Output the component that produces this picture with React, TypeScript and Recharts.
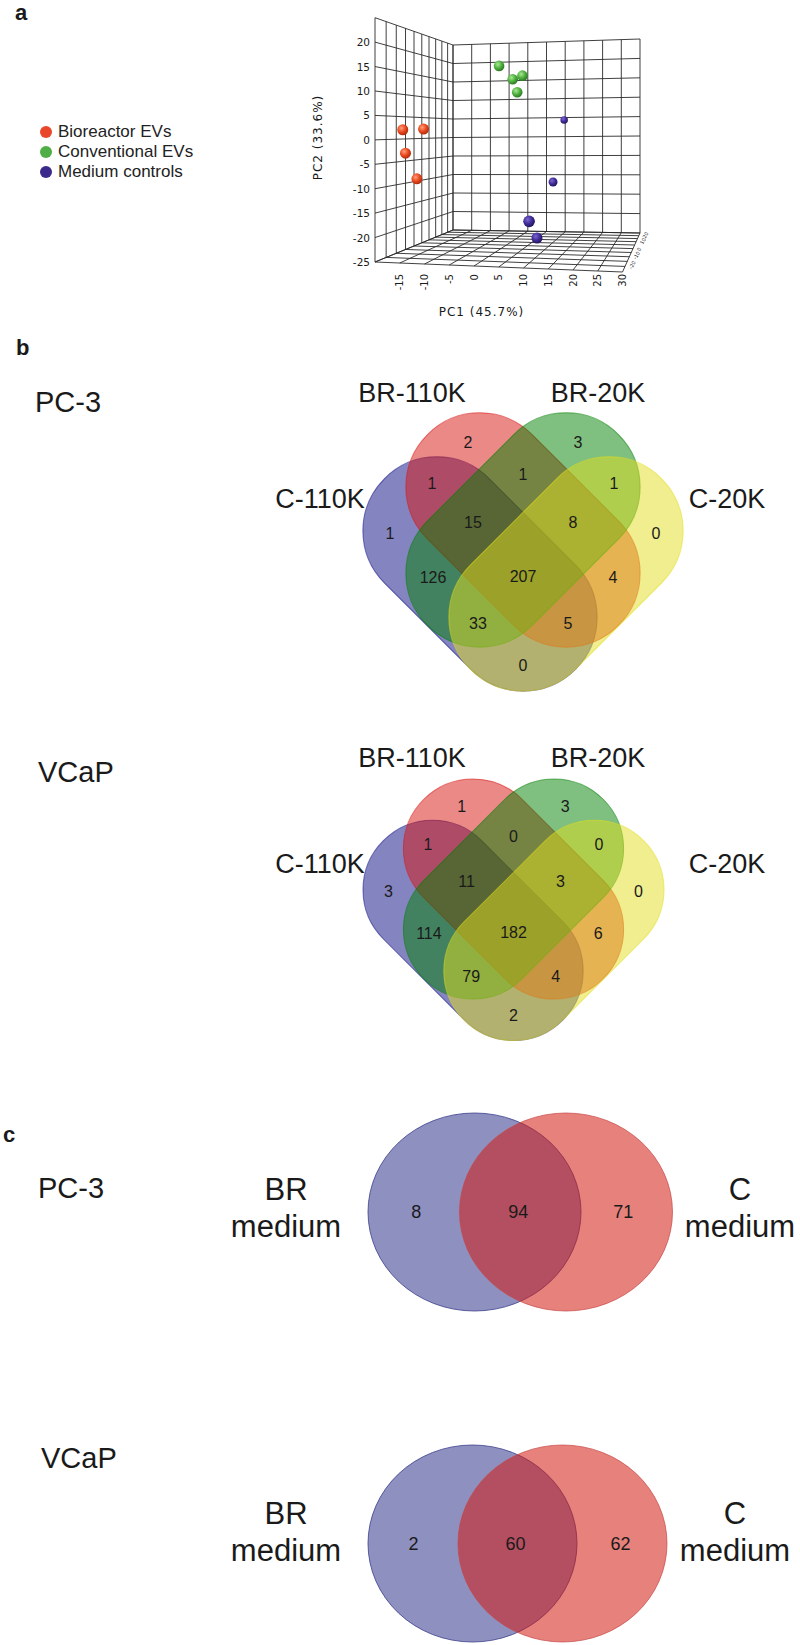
import React from 'react';
import { ScatterChart, Scatter, XAxis, YAxis, ReferenceLine, ReferenceArea, Legend } from 'recharts';

// ======================= DATA =======================
const groups = ['Bioreactor EVs', 'Conventional EVs', 'Medium controls'];

const bioreactorPC1 = [-17.4, -13.1, -16.7, -14.6];
const bioreactorPC2 = [2.1, 2.3, -2.9, -8.4];
const bioreactorPC3 = [-17.9, -17.6, -18.2, -17.4];

const conventionalPC1 = [2.5, 5.3, 7.6, 6.4];
const conventionalPC2 = [15.9, 13.1, 13.8, 10.3];
const conventionalPC3 = [-15.9, -15.4, -16.2, -15.9];

const mediumPC1 = [12.8, 12.0, 10.3, 11.1];
const mediumPC2 = [4.4, -9.6, -16.2, -20.2];
const mediumPC3 = [5.4, -5.0, -21.6, -17.9];

const pc1Ticks = [-15, -10, -5, 0, 5, 10, 15, 20, 25, 30];
const pc2Ticks = [20, 15, 10, 5, 0, -5, -10, -15, -20, -25];
const pc3Ticks = [-20, -10, 0, 10, 20];
const pc1Grid = [-20, -15, -10, -5, 0, 5, 10, 15, 20, 25, 30];
const pc2Grid = [-25, -20, -15, -10, -5, 0, 5, 10, 15, 20, 25];
const pc3Grid = [-25, -20, -15, -10, -5, 0, 5, 10, 15, 20, 25];
const pc1Title = 'PC1 (45.7%)';
const pc2Title = 'PC2 (33.6%)';

const venn4SetNames = ['C-110K', 'BR-110K', 'BR-20K', 'C-20K'];
const venn4Regions = ['A', 'B', 'C', 'D', 'AB', 'BC', 'CD', 'ABC', 'BCD', 'AC', 'BD', 'ABCD', 'ACD', 'ABD', 'AD'];
const pc3Venn4Counts = [1, 2, 3, 0, 1, 1, 1, 15, 8, 126, 4, 207, 33, 5, 0];
const vcapVenn4Counts = [3, 1, 3, 0, 1, 0, 0, 11, 3, 114, 6, 182, 79, 4, 2];

const venn2SetNames = [['BR', 'medium'], ['C', 'medium']];
const venn2Regions = ['A', 'AB', 'B'];
const pc3Venn2Counts = [8, 94, 71];
const vcapVenn2Counts = [2, 60, 62];

const panelLetters = ['a', 'b', 'c'];
const cellLines = ['PC-3', 'VCaP'];

// ======================= LAYOUT =======================
const W = 800;
const H = 1645;
const SANS = 'Liberation Sans, Arial, Helvetica, sans-serif';
const VERD = 'DejaVu Sans, Verdana, sans-serif';

// 3D box projection (page pixel frame)
const BOX = { p1: [-20, 30], p2: [-25, 25], p3: [-25, 25] };
const FRONT = { x0: 375, x1: 622.5, yb0: 262, yb1: 272, yt0: 17.7, yt1: 16 };
const BACK = { x0: 453, x1: 640, yb0: 230, yb1: 233, yt0: 45, yt1: 39 };
const PERSP = 0.5;

function proj(p1: number, p2: number, p3: number) {
  const u = (p1 - BOX.p1[0]) / (BOX.p1[1] - BOX.p1[0]);
  const v = (p2 - BOX.p2[0]) / (BOX.p2[1] - BOX.p2[0]);
  const t = (p3 - BOX.p3[0]) / (BOX.p3[1] - BOX.p3[0]);
  const f = (t * (1 + PERSP)) / (1 + PERSP * t);
  const xf = FRONT.x0 + u * (FRONT.x1 - FRONT.x0);
  const yfb = FRONT.yb0 + u * (FRONT.yb1 - FRONT.yb0);
  const yft = FRONT.yt0 + u * (FRONT.yt1 - FRONT.yt0);
  const yf = yfb + v * (yft - yfb);
  const xb = BACK.x0 + u * (BACK.x1 - BACK.x0);
  const ybb = BACK.yb0 + u * (BACK.yb1 - BACK.yb0);
  const ybt = BACK.yt0 + u * (BACK.yt1 - BACK.yt0);
  const yb = ybb + v * (ybt - ybb);
  return { x: xf + f * (xb - xf), y: yf + f * (yb - yf), f };
}

type Seg = [{ x: number; y: number }, { x: number; y: number }];
const gridSegs: Seg[] = [];
const seg = (a: { x: number; y: number }, b: { x: number; y: number }) =>
  gridSegs.push([{ x: a.x, y: a.y }, { x: b.x, y: b.y }]);
const [p1a, p1b] = BOX.p1;
const [p2a, p2b] = BOX.p2;
const [p3a, p3b] = BOX.p3;
// back wall
pc1Grid.forEach((k) => seg(proj(k, p2a, p3b), proj(k, p2b, p3b)));
pc2Grid.forEach((k) => seg(proj(p1a, k, p3b), proj(p1b, k, p3b)));
// left wall
pc3Grid.forEach((k) => seg(proj(p1a, p2a, k), proj(p1a, p2b, k)));
pc2Grid.forEach((k) => seg(proj(p1a, k, p3a), proj(p1a, k, p3b)));
// floor
pc1Grid.forEach((k) => seg(proj(k, p2a, p3a), proj(k, p2a, p3b)));
pc3Grid.forEach((k) => seg(proj(p1a, p2a, k), proj(p1b, p2a, k)));

const toPoints = (a: number[], b: number[], c: number[]) =>
  a.map((v, i) => {
    const p = proj(v, b[i], c[i]);
    return { x: p.x, y: p.y, r: 6.2 - 3.5 * p.f, i };
  });
const bioPts = toPoints(bioreactorPC1, bioreactorPC2, bioreactorPC3);
const convPts = toPoints(conventionalPC1, conventionalPC2, conventionalPC3);
const medPts = toPoints(mediumPC1, mediumPC2, mediumPC3);

// Venn 4 layout (relative units, scaled per panel)
const V4_CAPSULE = { len: 270, wid: 148 };
const V4_SHAPES = [
  { dx: -43, dy: 44, angle: 45 },
  { dx: 0, dy: 0, angle: 45 },
  { dx: 0, dy: 0, angle: -45 },
  { dx: 43, dy: 44, angle: -45 },
];
const V4_COLORS = ['rgb(10,10,130)', 'rgb(216,20,16)', 'rgb(0,128,0)', 'rgb(226,222,30)'];
const V4_REGION_POS: Record<string, [number, number]> = {
  A: [-133, 3], B: [-55, -88], C: [55, -88], D: [133, 3],
  AB: [-91, -47], BC: [0, -56], CD: [91, -47],
  ABC: [-50, -8], BCD: [50, -8], AC: [-90, 47], BD: [90, 47],
  ABCD: [0, 46], ACD: [-45, 93], ABD: [45, 93], AD: [0, 135],
};
const V4_LABEL_X = [320, 412, 598, 727];
const V4_LABEL_ROW = [1, 0, 0, 1];
const VENN4_PANELS = [
  { cx: 523, cy: 530, s: 1, counts: pc3Venn4Counts, labelY: [402, 508] },
  { cx: 513.5, cy: 889, s: 0.94, counts: vcapVenn4Counts, labelY: [767, 873] },
];

// Venn 2 layout
const V2_NUM_DX = [-104, -2, 103];
const VENN2_PANELS = [
  { mx: 520.25, cy: 1212, d: 45.75, rx: 106.5, ry: 99, counts: pc3Venn2Counts, labelX: [286, 740], lineY: [1200, 1237] },
  { mx: 517.5, cy: 1543.5, d: 45, rx: 104.5, ry: 98.5, counts: vcapVenn2Counts, labelX: [286, 735], lineY: [1524, 1561] },
];

// Text marks
type TM = { x: number; y: number; text: string; kind: string; rot?: number };
const texts: TM[] = [];
const addT = (x: number, y: number, text: string, kind: string, rot?: number) => texts.push({ x, y, text, kind, rot });

addT(15, 20, panelLetters[0], 'panel');
addT(16, 355, panelLetters[1], 'panel');
addT(3, 1142, panelLetters[2], 'panel');
addT(35, 412, cellLines[0], 'cell');
addT(38, 782, cellLines[1], 'cell');
addT(38, 1198, cellLines[0], 'cell');
addT(41, 1468, cellLines[1], 'cell');

pc2Ticks.forEach((k) => {
  const p = proj(p1a, k, p3a);
  addT(p.x - 5, p.y, String(k), 'ytick');
});
pc1Ticks.forEach((k) => {
  const p = proj(k, p2a, p3a);
  addT(p.x, 274, String(k), 'xtick', -90);
});
pc3Ticks.forEach((k) => {
  const p = proj(p1b, p2a, k);
  addT(p.x + 5, p.y + 2, String(k), 'ztick', -60);
});
addT(481.5, 316, pc1Title, 'axtitle');
addT(322, 137.5, pc2Title, 'axtitle', -90);

VENN4_PANELS.forEach((pn) => {
  venn4SetNames.forEach((nm, i) => addT(V4_LABEL_X[i], pn.labelY[V4_LABEL_ROW[i]], nm, 'v4set'));
  venn4Regions.forEach((rg, i) => {
    const [dx, dy] = V4_REGION_POS[rg];
    addT(pn.cx + dx * pn.s, pn.cy + dy * pn.s, String(pn.counts[i]), 'v4num');
  });
});
VENN2_PANELS.forEach((pn) => {
  venn2SetNames.forEach((lines, i) => {
    lines.forEach((ln, j) => addT(pn.labelX[i], pn.lineY[j], ln, 'v2set'));
  });
  venn2Regions.forEach((_rg, i) => addT(pn.mx + V2_NUM_DX[i], pn.cy, String(pn.counts[i]), 'v2num'));
});

const TEXT_STYLE: Record<string, any> = {
  panel: { fontFamily: SANS, fontSize: 22, fontWeight: 700, textAnchor: 'start' },
  cell: { fontFamily: SANS, fontSize: 29, textAnchor: 'start' },
  v4set: { fontFamily: SANS, fontSize: 27, textAnchor: 'middle' },
  v4num: { fontFamily: SANS, fontSize: 16, textAnchor: 'middle', dominantBaseline: 'central' },
  v2set: { fontFamily: SANS, fontSize: 31, textAnchor: 'middle' },
  v2num: { fontFamily: SANS, fontSize: 18, textAnchor: 'middle', dominantBaseline: 'central' },
  ytick: { fontFamily: VERD, fontSize: 10.5, textAnchor: 'end', dominantBaseline: 'central' },
  xtick: { fontFamily: VERD, fontSize: 10, textAnchor: 'end', dominantBaseline: 'central' },
  ztick: { fontFamily: VERD, fontSize: 5, textAnchor: 'start', dominantBaseline: 'central' },
  axtitle: { fontFamily: VERD, fontSize: 12, textAnchor: 'middle', letterSpacing: 1 },
};

const TextShape = (props: any) => {
  const { cx, cy, payload } = props;
  const st = TEXT_STYLE[payload.kind];
  const tr = payload.rot ? `rotate(${payload.rot} ${cx} ${cy})` : undefined;
  return (
    <text x={cx} y={cy} fill="#1a1a1a" transform={tr} {...st}>
      {payload.text}
    </text>
  );
};

const sphere = (light: string, base: string, dark: string, id: string) => (props: any) => {
  const { cx, cy, payload } = props;
  const gid = `${id}-${payload.i}`;
  return (
    <g>
      <defs>
        <radialGradient id={gid} cx="38%" cy="35%" r="70%">
          <stop offset="0%" stopColor={light} />
          <stop offset="55%" stopColor={base} />
          <stop offset="100%" stopColor={dark} />
        </radialGradient>
      </defs>
      <circle cx={cx} cy={cy} r={payload.r} fill={`url(#${gid})`} />
    </g>
  );
};

const capsule = (color: string, angle: number) => (props: any) => {
  const { x, y, width, height } = props;
  const cx = x + width / 2;
  const cy = y + height / 2;
  return (
    <rect
      x={x}
      y={y}
      width={width}
      height={height}
      rx={height / 2}
      ry={height / 2}
      fill={color}
      fillOpacity={0.5}
      stroke={color}
      strokeOpacity={0.55}
      strokeWidth={1}
      transform={`rotate(${angle} ${cx} ${cy})`}
    />
  );
};

const ellipse = (fill: string, opacity: number, stroke: string) => (props: any) => {
  const { x, y, width, height } = props;
  return (
    <ellipse
      cx={x + width / 2}
      cy={y + height / 2}
      rx={width / 2}
      ry={height / 2}
      fill={fill}
      fillOpacity={opacity}
      stroke={stroke}
      strokeWidth={1}
    />
  );
};

const legendColors = ['#E8472A', '#4FAE45', '#3B2A8A'];

const LegendContent = () => (
  <div style={{ fontFamily: SANS, fontSize: 17, color: '#222', lineHeight: '20px' }}>
    {groups.map((g, i) => (
      <div key={g} style={{ display: 'flex', alignItems: 'center', height: 20 }}>
        <span
          style={{
            display: 'inline-block',
            width: 12,
            height: 12,
            borderRadius: 6,
            background: legendColors[i],
            marginRight: 6,
          }}
        />
        <span>{g}</span>
      </div>
    ))}
  </div>
);

export default function App() {
  return (
    <div style={{ position: 'absolute', left: 0, top: 0, width: W, height: H, background: '#fff' }}>
      <ScatterChart width={W} height={H} margin={{ top: 0, right: 0, bottom: 0, left: 0 }}>
        <XAxis type="number" dataKey="x" domain={[0, W]} hide allowDataOverflow />
        <YAxis type="number" dataKey="y" domain={[0, H]} reversed hide allowDataOverflow />

        {gridSegs.map((s, i) => (
          <ReferenceLine key={`g${i}`} segment={s} stroke="#2a2a2a" strokeWidth={0.9} />
        ))}

        {VENN4_PANELS.map((pn, pi) =>
          V4_SHAPES.map((sh, i) => {
            const cx = pn.cx + sh.dx * pn.s;
            const cy = pn.cy + sh.dy * pn.s;
            const hl = (V4_CAPSULE.len * pn.s) / 2;
            const hw = (V4_CAPSULE.wid * pn.s) / 2;
            return (
              <ReferenceArea
                key={`v4-${pi}-${i}`}
                x1={cx - hl}
                x2={cx + hl}
                y1={cy - hw}
                y2={cy + hw}
                shape={capsule(V4_COLORS[i], sh.angle)}
              />
            );
          })
        )}

        {VENN2_PANELS.map((pn, pi) => [
          <ReferenceArea
            key={`v2a-${pi}`}
            x1={pn.mx - pn.d - pn.rx}
            x2={pn.mx - pn.d + pn.rx}
            y1={pn.cy - pn.ry}
            y2={pn.cy + pn.ry}
            shape={ellipse('rgb(50,52,140)', 0.55, 'rgba(60,62,140,0.8)')}
          />,
          <ReferenceArea
            key={`v2b-${pi}`}
            x1={pn.mx + pn.d - pn.rx}
            x2={pn.mx + pn.d + pn.rx}
            y1={pn.cy - pn.ry}
            y2={pn.cy + pn.ry}
            shape={ellipse('rgb(209,26,16)', 0.55, 'rgba(200,70,70,0.7)')}
          />,
        ])}

        <Scatter name={groups[0]} data={bioPts} isAnimationActive={false} shape={sphere('#ff9f7a', '#e6461d', '#a8280a', 'sr')} />
        <Scatter name={groups[1]} data={convPts} isAnimationActive={false} shape={sphere('#a9e894', '#4cad3c', '#267320', 'sg')} />
        <Scatter name={groups[2]} data={medPts} isAnimationActive={false} shape={sphere('#7d66d2', '#3e2a92', '#20125a', 'sp')} />
        <Scatter name="labels" data={texts} legendType="none" isAnimationActive={false} shape={TextShape} />

        <Legend
          layout="vertical"
          align="center"
          verticalAlign="middle"
          wrapperStyle={{ left: 40, top: 122, width: 220, height: 62 }}
          content={LegendContent}
        />
      </ScatterChart>
    </div>
  );
}
